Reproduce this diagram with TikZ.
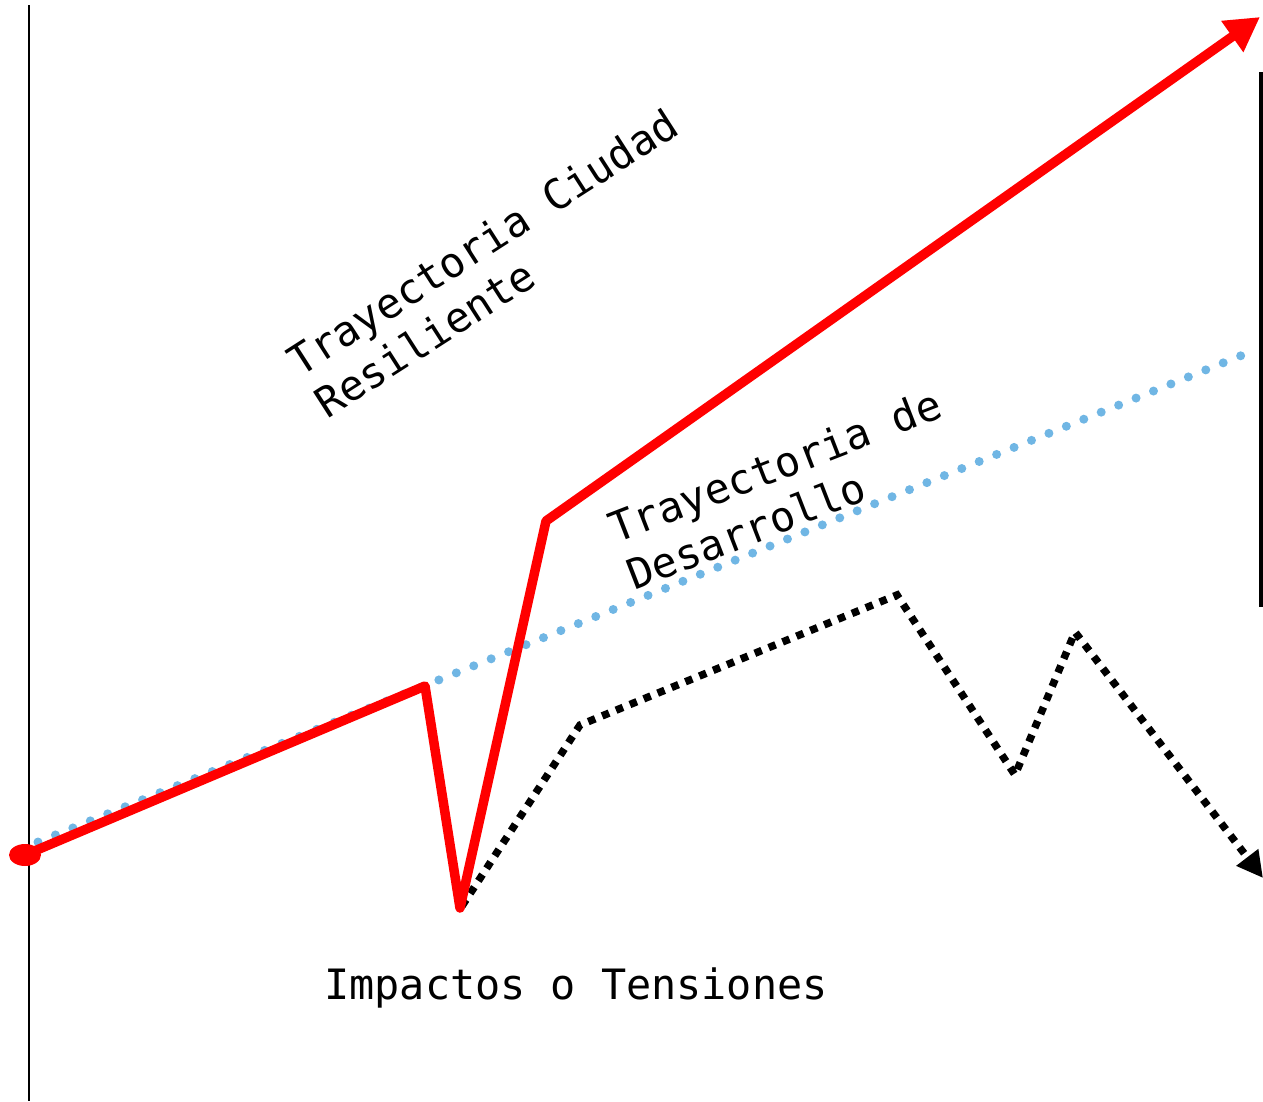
\documentclass[tikz,border=0pt]{standalone}
\usepackage{fontspec}
\setmonofont{DejaVu Sans Mono}
\usetikzlibrary{arrows.meta}
\definecolor{azul}{RGB}{112,182,228}

\begin{document}
\begin{tikzpicture}[x=1pt,y=-1pt]
\useasboundingbox (0,0) rectangle (1263,1101);
\tikzset{etiqueta/.style={font=\ttfamily\fontsize{41.8}{50}\selectfont, align=left, inner sep=0pt}}
% ejes
\draw[line width=2.2pt] (29,5) -- (29,1101);
\draw[line width=4pt] (1261,72) -- (1261,607);
% trayectoria de desarrollo
\draw[azul, line width=9pt, line cap=round, dash pattern=on 0pt off 18.8pt] (38,842) -- (1250,352);
% impactos o tensiones
\draw[line width=7.5pt, dash pattern=on 7.5pt off 7.5pt, -{Triangle[length=26pt,width=26pt]}]
  (462,906) -- (580,725) -- (897,595) -- (1015,775) -- (1075,632) -- (1263,878);
% trayectoria ciudad resiliente
\fill[red] (25,855) ellipse (16pt and 11pt);
\draw[red, line width=9.5pt, line join=round, -{Triangle[length=34pt,width=36pt]}]
  (25,855) -- (425,686) -- (460,908) -- (546,521) -- (1260,17);
% textos
\node[etiqueta, rotate=32.7] (resiliente) at (496,263) {Trayectoria Ciudad\\Resiliente};
\node[etiqueta, rotate=21.2] (desarrollo) at (784,489) {Trayectoria de\\Desarrollo};
\node[etiqueta] (impactos) at (576,988) {Impactos o Tensiones};
\end{tikzpicture}
\end{document}
